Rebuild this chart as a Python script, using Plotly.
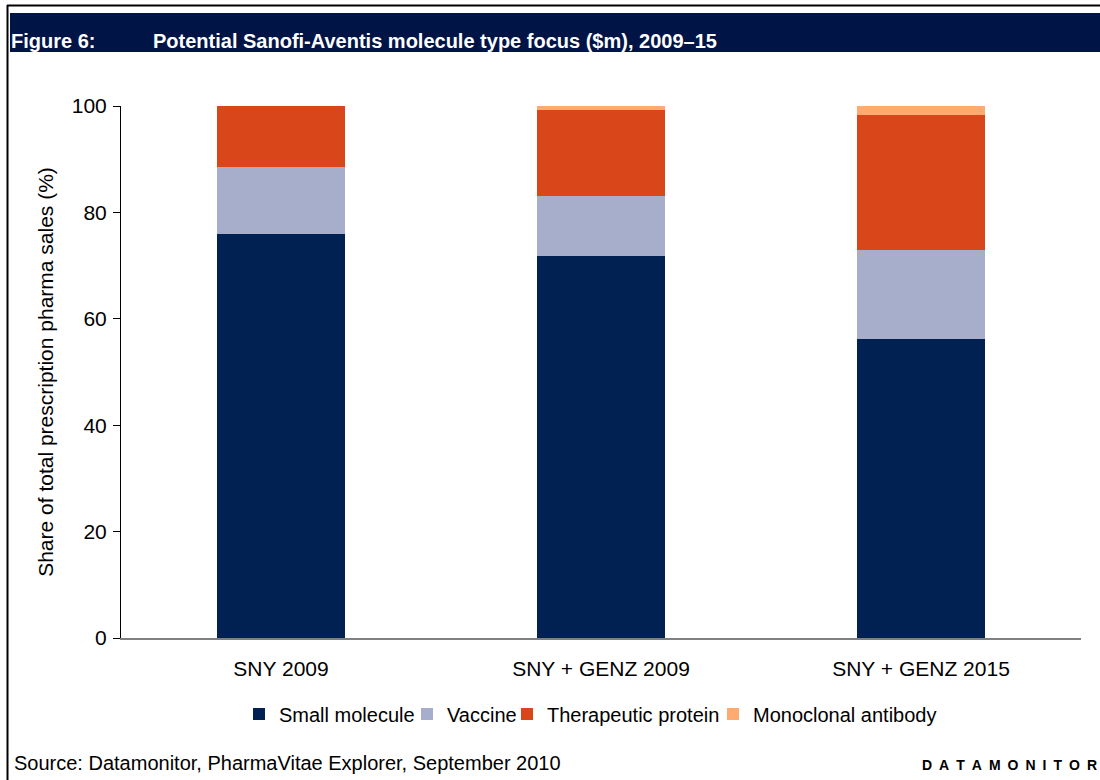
import plotly.graph_objects as go

categories = ["SNY 2009", "SNY + GENZ 2009", "SNY + GENZ 2015"]
series_names = ["Small molecule", "Vaccine", "Therapeutic protein", "Monoclonal antibody"]
small_molecule = [76.0, 71.8, 56.2]
vaccine = [12.5, 11.3, 16.7]
therapeutic_protein = [11.5, 16.15, 25.4]
monoclonal_antibody = [0.0, 0.75, 1.7]
y_ticks = [0, 20, 40, 60, 80, 100]

colors = ["#002152", "#A6AECC", "#D94619", "#FFAB70"]
values = [small_molecule, vaccine, therapeutic_protein, monoclonal_antibody]
# left pixel where each legend label starts in the reference
legend_text_x = [279, 447, 547, 753]

W, H = 1100, 780
L, R, T, B = 121, 19, 106, 142
PW, PH = W - L - R, H - T - B


def px(x):
    return (x - L) / PW


def py(y):
    return (H - B - y) / PH


FONT = "Liberation Sans, Arial, sans-serif"

fig = go.Figure()
legend_layouts = {}
for i, (name, vals, col) in enumerate(zip(series_names, values, colors)):
    lg = "legend" if i == 0 else f"legend{i + 1}"
    fig.add_trace(go.Bar(x=categories, y=vals, name=name, marker=dict(color=col, line=dict(width=0)),
                         width=0.4, legend=lg))
    legend_layouts[lg] = dict(orientation="h", x=px(legend_text_x[i] - 40), xanchor="left",
                              y=py(714), yanchor="middle", itemwidth=30,
                              font=dict(family=FONT, size=20, color="black"),
                              bgcolor="rgba(0,0,0,0)", borderwidth=0)

shapes = [
    # header band
    dict(type="rect", xref="paper", yref="paper", x0=px(10), x1=px(1101), y0=py(52), y1=py(13),
         fillcolor="#001446", line=dict(width=0), layer="below"),
    # frame lines
    dict(type="line", xref="paper", yref="paper", x0=px(7), x1=px(1101), y0=py(5.5), y1=py(5.5),
         line=dict(color="black", width=2)),
    dict(type="line", xref="paper", yref="paper", x0=px(7.5), x1=px(7.5), y0=py(5), y1=py(781),
         line=dict(color="black", width=2)),
]

annotations = [
    dict(text="<b>Figure 6:</b>", xref="paper", yref="paper", x=px(9), y=py(41.5), xanchor="left",
         yanchor="middle", showarrow=False, font=dict(family=FONT, size=20, color="white")),
    dict(text="<b>Potential Sanofi-Aventis molecule type focus ($m), 2009\u201315</b>", xref="paper",
         yref="paper", x=px(151), y=py(41.5), xanchor="left", yanchor="middle", showarrow=False,
         font=dict(family=FONT, size=20, color="white")),
    dict(text="Source: Datamonitor, PharmaVitae Explorer, September 2010", xref="paper", yref="paper",
         x=px(12), y=py(763), xanchor="left", yanchor="middle", showarrow=False,
         font=dict(family=FONT, size=20, color="black")),
    dict(text="<b>" + "\u2002".join("DATAMONITOR") + "</b>", xref="paper", yref="paper",
         x=px(1099), y=py(765), xanchor="right", yanchor="middle", showarrow=False,
         font=dict(family=FONT, size=14, color="black")),
]

fig.update_layout(
    width=W, height=H,
    margin=dict(l=L, r=R, t=T, b=B),
    paper_bgcolor="white", plot_bgcolor="white",
    barmode="stack",
    font=dict(family=FONT, size=20, color="black"),
    showlegend=True,
    shapes=shapes,
    annotations=annotations,
    **legend_layouts,
)

fig.update_yaxes(range=[0, 100], tickvals=y_ticks, ticks="outside", ticklen=7, tickcolor="black",
                 showline=True, linecolor="black", linewidth=1, showgrid=False, zeroline=False,
                 tickfont=dict(family=FONT, size=21, color="black"), ticklabelstandoff=2,
                 title=dict(text="Share of total prescription pharma sales (%)",
                            font=dict(family=FONT, size=21, color="black"), standoff=12))
fig.update_xaxes(showline=True, linecolor="#808080", linewidth=1.5, ticks="", showgrid=False,
                 tickfont=dict(family=FONT, size=21, color="black"), ticklabelstandoff=11)

fig.write_html("out.html")
